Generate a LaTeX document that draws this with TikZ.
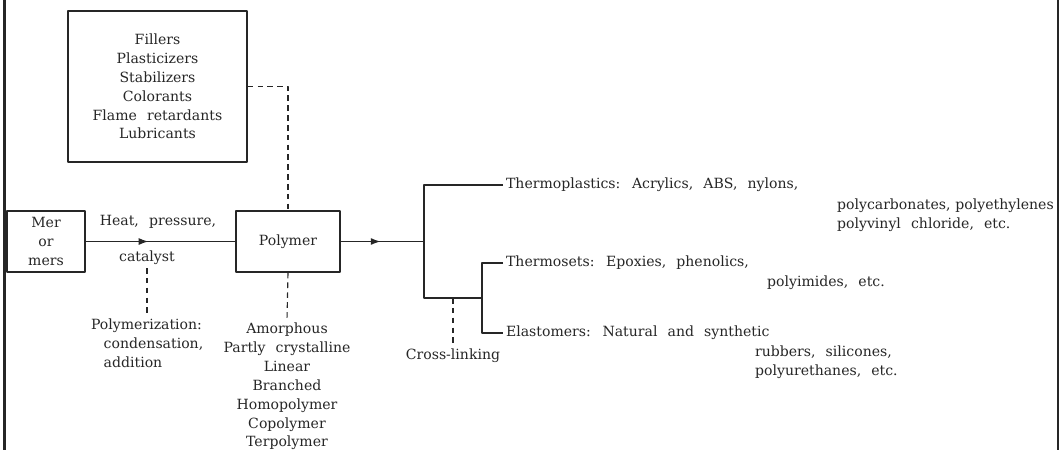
\documentclass[tikz,border=0pt]{standalone}
\usepackage{fontspec}
\setmainfont{DejaVu Serif}
\usetikzlibrary{calc,arrows.meta,decorations.markings}
\definecolor{ink}{gray}{0.15}
\newcommand\widespacing{\spaceskip=0.72em plus 0.1em minus 0.05em\relax}

\begin{document}
\begin{tikzpicture}[x=0.025cm, y=-0.025cm, line join=round,
    every node/.style={text=ink, font=\fontsize{10}{13.4}\selectfont\widespacing},
    box/.style={draw=ink, line width=0.9pt, align=center, inner sep=0pt},
    txt/.style={align=center, inner sep=2pt},
    link/.style={draw=ink, line width=1pt},
    dashlink/.style={draw=ink, line width=0.8pt, dash pattern=on 4pt off 3pt},
    midarrow/.style={postaction={decorate}, decoration={markings,
        mark=at position #1 with {\arrow{Latex[length=7pt,width=5pt]}}}}]
    % 画布大小 (与原图 1061x450 相同)
    \useasboundingbox (0,0) rectangle (1061,450);

    % 1. 左右两条粗边线
    \draw[ink, line width=2.2pt] (4.5,0) -- (4.5,450);
    \draw[ink, line width=1.6pt] (1058,0) -- (1058,450);

    % 2. 三个方框: 添加剂, 单体, 聚合物
    \node[box, minimum width=4.475cm, minimum height=3.775cm] (add) at (157.5,86.5)
        {Fillers\\Plasticizers\\Stabilizers\\Colorants\\Flame retardants\\Lubricants};
    \node[box, minimum width=1.95cm, minimum height=1.525cm] (mer) at (46,241.5) {Mer\\or\\mers};
    \node[box, minimum width=2.6cm, minimum height=1.525cm] (poly) at (288,241.5) {Polymer};

    % 3. 主流程上的说明文字
    \node[txt] (heat) at (158,222) {Heat, pressure,};
    \node[txt] (cat) at (147,258) {catalyst};
    \node[txt, align=left, anchor=north west] (pzn) at (88,316)
        {Polymerization:\\\hspace{0.9em}condensation,\\\hspace{0.9em}addition};
    \node[txt, anchor=north] (forms) at (287,320)
        {Amorphous\\Partly crystalline\\Linear\\Branched\\Homopolymer\\Copolymer\\Terpolymer};

    % 4. 右侧分支: 热塑性, 热固性, 弹性体
    \coordinate (ja) at (424,241.5);
    \coordinate (jb) at (424,298);
    \coordinate (jc) at (482,298);
    \node[txt, anchor=west] (tp) at (503,185) {Thermoplastics: Acrylics, ABS, nylons,};
    \node[txt, anchor=north west, align=left] (tpx) at (834,196)
        {polycarbonates,\hspace{0.35em}polyethylenes\\polyvinyl chloride, etc.};
    \node[txt, anchor=west] (ts) at (503,263) {Thermosets: Epoxies, phenolics,};
    \node[txt, anchor=west] (tsx) at (764,283) {polyimides, etc.};
    \node[txt, anchor=west] (el) at (503,333) {Elastomers: Natural and synthetic};
    \node[txt, anchor=north west, align=left] (elx) at (752,343)
        {rubbers, silicones,\\polyurethanes, etc.};
    \node[txt] (xl) at (453,356) {Cross-linking};

    % 5. 实线连接 (中间带箭头)
    \draw[link, midarrow=0.42] (mer) -- (poly);
    \draw[link, midarrow=0.48] (poly) -- (ja);
    \draw[link] (tp.west) -| (jb) -- (jc);
    \draw[link] (ts.west) -| (jc) |- (el.west);

    % 6. 虚线连接
    \draw[dashlink] (add.east) -| (poly.north);
    \draw[dashlink] (cat.south) -- (cat.south |- pzn.north);
    \draw[dashlink] (poly.south) -- (forms.north);
    \draw[dashlink] (xl.north |- jb) -- (xl.north);
\end{tikzpicture}
\end{document}
